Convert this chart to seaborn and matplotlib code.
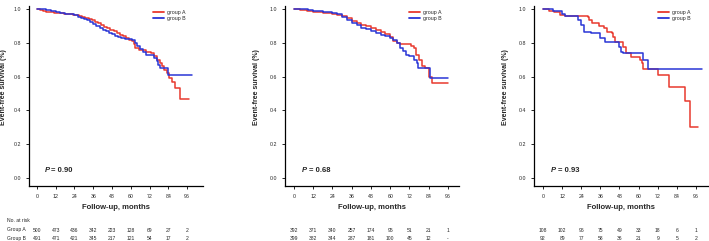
import matplotlib
matplotlib.use("Agg")
import matplotlib.pyplot as plt
import matplotlib.transforms as mtransforms
import seaborn as sns
import pandas as pd

sns.set_theme(style="white")
plt.rcParams['font.family'] = ['Liberation Sans', 'DejaVu Sans']

# ---------------- data ----------------
months_ticks = [0, 12, 24, 36, 48, 60, 72, 84, 96]
y_ticks = [0.0, 0.2, 0.4, 0.6, 0.8, 1.0]

# Panel 1
p1_a_t = [0, 2, 4, 6, 8, 11, 14, 17, 20, 23, 25, 27, 29, 31, 33, 35, 37, 39, 41, 43, 45, 47, 49,
          51, 53, 55, 57, 59, 61, 62, 63, 65, 68, 70, 73, 75, 77, 78.5, 80, 81, 83, 84.5, 86.5, 88,
          91.5, 97]
p1_a_s = [1.0, 0.995, 0.99, 0.985, 0.98, 0.977, 0.975, 0.972, 0.97, 0.966, 0.962, 0.958, 0.952,
          0.946, 0.94, 0.932, 0.925, 0.918, 0.905, 0.895, 0.887, 0.878, 0.868, 0.858, 0.848, 0.838,
          0.828, 0.818, 0.81, 0.79, 0.768, 0.757, 0.755, 0.745, 0.738, 0.722, 0.70, 0.68, 0.66, 0.64,
          0.62, 0.59, 0.57, 0.53, 0.47, 0.47]
p1_b_t = [0, 3, 6, 9, 12, 15, 18, 21, 24, 26, 28, 30, 32, 34, 36, 38, 40, 42, 44, 46, 48, 50, 52,
          54, 56, 58, 61, 63, 64, 66, 68, 70, 73, 75, 76.5, 77.5, 78.5, 84, 99]
p1_b_s = [1.0, 0.998, 0.993, 0.99, 0.985, 0.978, 0.972, 0.968, 0.962, 0.955, 0.948, 0.94, 0.932,
          0.922, 0.91, 0.898, 0.888, 0.878, 0.868, 0.86, 0.852, 0.843, 0.835, 0.826, 0.822, 0.82,
          0.815, 0.80, 0.78, 0.765, 0.745, 0.73, 0.725, 0.71, 0.69, 0.67, 0.65, 0.607, 0.607]

# Panel 2
p2_a_t = [0, 4, 8, 12, 18, 24, 27, 30, 33, 36, 39, 42, 45, 48, 51, 54, 57, 60, 62, 64, 66, 73,
          75, 76, 78, 80, 82, 84, 84.5, 86, 96]
p2_a_s = [1.0, 0.995, 0.99, 0.985, 0.978, 0.97, 0.965, 0.958, 0.945, 0.93, 0.915, 0.905, 0.897,
          0.89, 0.878, 0.865, 0.85, 0.835, 0.81, 0.80, 0.79, 0.78, 0.77, 0.73, 0.70, 0.66, 0.65,
          0.62, 0.60, 0.56, 0.56]
p2_b_t = [0, 5, 9, 12, 18, 24, 27, 30, 33, 36, 39, 42, 45, 48, 51, 54, 57, 60, 62, 64, 66, 68,
          70, 72, 75, 76.5, 77.5, 85, 96]
p2_b_s = [1.0, 0.997, 0.992, 0.99, 0.982, 0.975, 0.97, 0.95, 0.935, 0.92, 0.905, 0.89, 0.88,
          0.87, 0.858, 0.845, 0.838, 0.83, 0.815, 0.80, 0.77, 0.75, 0.73, 0.72, 0.70, 0.68, 0.65,
          0.59, 0.59]

# Panel 3
p3_a_t = [0, 4, 7, 10.5, 14, 28, 29, 31, 35, 38, 40, 43, 44, 45, 50, 52, 55, 61, 62, 63, 72, 79,
          89, 92, 97]
p3_a_s = [1.0, 0.99, 0.98, 0.967, 0.96, 0.954, 0.935, 0.915, 0.90, 0.885, 0.866, 0.856, 0.836,
          0.807, 0.777, 0.738, 0.718, 0.698, 0.678, 0.643, 0.608, 0.54, 0.455, 0.30, 0.30]
p3_b_t = [0, 6, 12, 14, 22, 24, 26, 30, 36, 39, 48, 49, 50, 63, 66, 99.5]
p3_b_s = [1.0, 0.99, 0.97, 0.96, 0.935, 0.906, 0.866, 0.856, 0.827, 0.807, 0.777, 0.747, 0.738,
          0.698, 0.645, 0.645]

p_values = ["0.90", "0.68", "0.93"]

risk_a = [[500, 473, 436, 342, 223, 128, 69, 27, 2],
          [392, 371, 340, 257, 174, 95, 51, 21, 1],
          [108, 102, 96, 75, 49, 33, 18, 6, 1]]
risk_b = [[491, 471, 421, 345, 217, 121, 54, 17, 2],
          [399, 382, 344, 287, 181, 100, 45, 12, "-"],
          [92, 89, 77, 58, 36, 21, 9, 5, 2]]

curves = [(p1_a_t, p1_a_s, p1_b_t, p1_b_s),
          (p2_a_t, p2_a_s, p2_b_t, p2_b_s),
          (p3_a_t, p3_a_s, p3_b_t, p3_b_s)]

# ---------------- layout ----------------
W, H = 709, 241
fig = plt.figure(figsize=(W / 100, H / 100), dpi=100)

red = "#E8392E"
blue = "#2A35D6"

panels = [  # left px, x-lim
    (29, (-5.1, 106.2)),
    (285, (-5.6, 102.9)),
    (534, (-5.6, 103.5)),
]
ax_w = 174
ax_top, ax_bot = 5.6, 186

for i, ((left, xl), (at, as_, bt, bs)) in enumerate(zip(panels, curves)):
    ax = fig.add_axes([left / W, (H - ax_bot) / H, ax_w / W, (ax_bot - ax_top) / H])
    df = pd.concat([
        pd.DataFrame({"t": at, "s": as_, "g": "group A"}),
        pd.DataFrame({"t": bt, "s": bs, "g": "group B"}),
    ])
    sns.lineplot(data=df, x="t", y="s", hue="g", palette={"group A": red, "group B": blue},
                 drawstyle="steps-post", estimator=None, sort=False, linewidth=1.1, ax=ax)
    ax.set_xlim(*xl)
    ax.set_ylim(-0.047, 1.02)
    ax.set_xticks(months_ticks)
    ax.set_yticks(y_ticks)
    ax.set_xticklabels([str(m) for m in months_ticks])
    ax.set_yticklabels([f"{v:.1f}" for v in y_ticks])
    for s in ["top", "right"]:
        ax.spines[s].set_visible(False)
    for s in ["left", "bottom"]:
        ax.spines[s].set_color("black")
        ax.spines[s].set_linewidth(0.9)
    ax.tick_params(axis="both", which="major", length=2, width=0.6, color="black",
                   labelsize=3.8, pad=3.5, direction="out", left=True, bottom=True)
    ax.set_xlabel("Follow-up, months", fontsize=5.5, fontweight="bold", labelpad=4)
    ax.set_ylabel("Event-free survival (%)", fontsize=5, fontweight="bold")
    ax.yaxis.set_label_coords(-0.128 if i == 0 else -0.141, 0.55)
    ax.text(5, 0.047, "P", fontsize=5.5, fontweight="bold", fontstyle="italic",
            va="center", ha="left")
    off = mtransforms.offset_copy(ax.transData, fig=fig, x=6.6, y=0, units="dots")
    ax.text(5, 0.047, f"= {p_values[i]}", fontsize=5.5, fontweight="bold",
            va="center", ha="left", transform=off)
    leg = ax.legend(loc="upper right", bbox_to_anchor=(0.915, 0.99), frameon=False,
                    fontsize=3.8, handlelength=2.2, handletextpad=0.6, labelspacing=0.25,
                    borderaxespad=0)
    for line in leg.get_lines():
        line.set_linewidth(1.3)

    # number at risk rows
    x0 = left + (0 - xl[0]) / (xl[1] - xl[0]) * ax_w
    x96 = left + (96 - xl[0]) / (xl[1] - xl[0]) * ax_w
    for j, m in enumerate(months_ticks):
        xp = x0 + (x96 - x0) * m / 96
        fig.text(xp / W, 1 - 230 / H, str(risk_a[i][j]), fontsize=3.6, ha="center", va="center")
        fig.text(xp / W, 1 - 238.3 / H, str(risk_b[i][j]), fontsize=3.6, ha="center", va="center")

fig.text(7 / W, 1 - 220.7 / H, "No. at risk", fontsize=3.6, ha="left", va="center")
fig.text(7 / W, 1 - 230 / H, "Group A", fontsize=3.6, ha="left", va="center")
fig.text(7 / W, 1 - 238.3 / H, "Group B", fontsize=3.6, ha="left", va="center")

fig.savefig("out.png", dpi=100)
